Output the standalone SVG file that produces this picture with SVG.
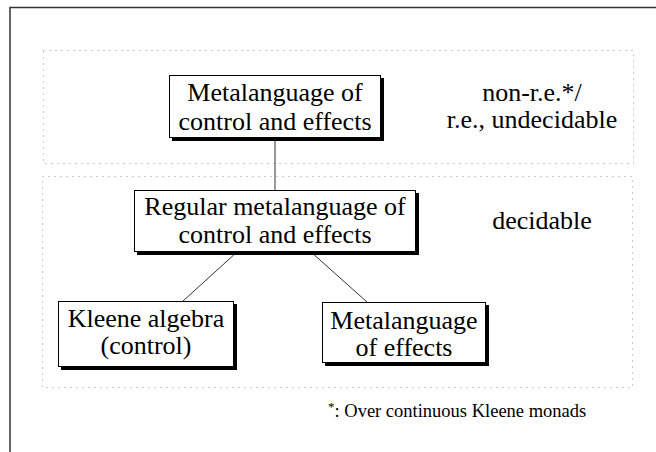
<svg xmlns="http://www.w3.org/2000/svg" width="656" height="452" viewBox="0 0 656 452">
<style>
  .frame { fill: none; stroke: #333; stroke-width: 1.5; }
  .region { fill: none; stroke: #999; stroke-width: 1; stroke-dasharray: 1 5; }
  .shadow { fill: #000; }
  .box { fill: #fff; stroke: #000; stroke-width: 1; }
  .t { font-family: "Liberation Serif", "Times New Roman", serif; font-size: 26px; fill: #000; text-anchor: middle; }
  .note { font-family: "Liberation Serif", "Times New Roman", serif; font-size: 18.5px; fill: #000; }
  .conn { stroke: #333; stroke-width: 1; fill: none; }
</style>
<rect width="656" height="452" fill="#fff"/>
<path class="frame" d="M10,452 V7.5 H656"/>
<g id="regions">
  <rect class="region" x="43.5" y="50.5" width="590" height="113"/>
  <rect class="region" x="42.5" y="176.5" width="590" height="211"/>
</g>
<g id="connectors">
  <line class="conn" x1="275" y1="141" x2="275" y2="190"/>
  <line class="conn" x1="237" y1="252" x2="183" y2="301"/>
  <line class="conn" x1="311" y1="252" x2="367" y2="302"/>
</g>
<g id="node-meta">
  <rect class="shadow" x="172" y="78" width="212" height="63"/>
  <rect class="box" x="169.5" y="75.5" width="211" height="62"/>
  <text class="t" x="275" y="101">Metalanguage of</text>
  <text class="t" x="275" y="130">control and effects</text>
</g>
<g id="node-regular">
  <rect class="shadow" x="137" y="193" width="282" height="62"/>
  <rect class="box" x="134.5" y="190.5" width="281" height="61"/>
  <text class="t" x="275" y="215">Regular metalanguage of</text>
  <text class="t" x="275" y="243">control and effects</text>
</g>
<g id="node-kleene">
  <rect class="shadow" x="61" y="304" width="176" height="66"/>
  <rect class="box" x="58.5" y="301.5" width="175" height="65"/>
  <text class="t" x="146" y="327">Kleene algebra</text>
  <text class="t" x="146" y="354">(control)</text>
</g>
<g id="node-effects">
  <rect class="shadow" x="325" y="305" width="164" height="61"/>
  <rect class="box" x="322.5" y="302.5" width="163" height="60"/>
  <text class="t" x="404" y="329">Metalanguage</text>
  <text class="t" x="404" y="356">of effects</text>
</g>
<g id="label-undecidable">
  <text class="t" x="532" y="101">non-r.e.*/</text>
  <text class="t" x="532" y="128">r.e., undecidable</text>
</g>
<g id="label-decidable">
  <text class="t" x="542" y="229">decidable</text>
</g>
<g id="footnote">
  <text class="note" x="328" y="417"><tspan font-size="13" dy="-6">*</tspan><tspan dy="6">: Over continuous Kleene monads</tspan></text>
</g>
</svg>
